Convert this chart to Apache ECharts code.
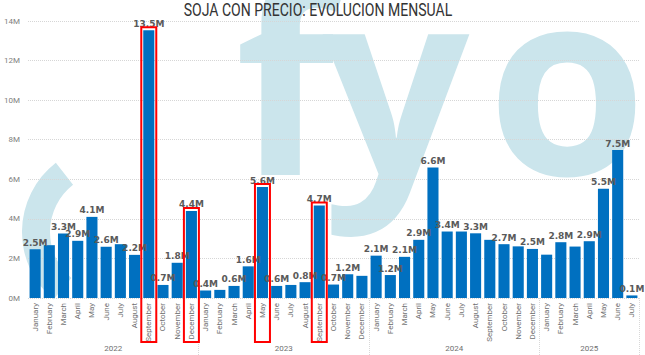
<!DOCTYPE html>
<html><head><meta charset="utf-8">
<script src="https://cdn.jsdelivr.net/npm/echarts@6/dist/echarts.min.js"></script>
<style>html,body{margin:0;padding:0;background:#fff}#c{width:645px;height:355px}</style>
</head><body><div id="c"></div>
<script>
const months = [
  'January','February','March','April','May','June','July','August','September','October','November','December',
  'January','February','March','April','May','June','July','August','September','October','November','December',
  'January','February','March','April','May','June','July','August','September','October','November','December',
  'January','February','March','April','May','June','July'
];
const values = [
  2.47, 2.67, 3.26, 2.89, 4.10, 2.59, 2.72, 2.18, 13.53, 0.66, 1.78, 4.40,
  0.38, 0.41, 0.61, 1.60, 5.61, 0.61, 0.66, 0.80, 4.67, 0.68, 1.20, 1.12,
  2.14, 1.16, 2.08, 2.94, 6.60, 3.36, 3.36, 3.27, 2.94, 2.72, 2.61, 2.48,
  2.19, 2.82, 2.60, 2.87, 5.52, 7.48, 0.13
];
const showLabel = [
  1,0,1,1,1,1,0,1,1,1,1,1,
  1,0,1,1,1,1,0,1,1,1,1,0,
  1,1,1,1,1,1,0,1,0,1,0,1,
  0,1,0,1,1,1,1
];
const yearLabels = ['2022','2023','2024','2025'];
const yearCenters = [5.5, 17.5, 29.5, 39];
const yearBounds = [11.5, 23.5, 35.5, 42.5];
const highlighted = [8, 11, 16, 20];
const titleText = 'SOJA CON PRECIO: EVOLUCION MENSUAL';

const chart = echarts.init(document.getElementById('c'), null, {renderer: 'svg'});
const axisFont = 'Roboto';
chart.setOption({
  animation: false,
  grid: {left: 28, right: 6, top: 21, bottom: 57},
  xAxis: [
    {
      type: 'category', data: months,
      axisLine: {show: false}, axisTick: {show: false},
      axisLabel: {rotate: 90, interval: 0, fontSize: 8, color: '#707070', margin: 5, fontFamily: axisFont}
    },
    {
      type: 'value', min: -0.5, max: 42.5, position: 'bottom',
      axisLine: {show: false}, splitLine: {show: false},
      axisTick: {show: true, customValues: yearBounds, length: 57, lineStyle: {color: '#d8d8d8', type: 'dotted'}},
      axisLabel: {customValues: yearCenters, margin: 46, fontSize: 8, color: '#707070', fontFamily: axisFont,
        formatter: v => yearLabels[yearCenters.indexOf(v)]}
    }
  ],
  yAxis: {
    type: 'value', min: 0, max: 14, interval: 2,
    axisLine: {show: false}, axisTick: {show: false},
    axisLabel: {formatter: v => v + 'M', fontSize: 8, color: '#808080', margin: 8, fontFamily: axisFont},
    splitLine: {lineStyle: {color: '#d6d6d6', type: 'dotted'}}
  },
  series: [{
    type: 'bar', xAxisIndex: 0, yAxisIndex: 0,
    barCategoryGap: '22%',
    itemStyle: {color: '#0070c0'},
    data: values.map((v, i) => ({value: v, label: {show: !!showLabel[i]}})),
    label: {
      position: 'top', distance: 2,
      formatter: p => p.value.toFixed(1) + 'M',
      fontSize: 9, fontWeight: 'bold', color: '#5a5a5a', fontFamily: 'DejaVu Sans'
    }
  }]
});

const wm = '#cbe5ec';
const H = chart.getHeight();
const boxes = highlighted.map((i, k) => {
  const p = chart.convertToPixel({seriesIndex: 0}, [i, values[i]]);
  const top = p[1] - 3;
  return {type: 'rect', id: 'box' + k, z: 100,
    shape: {x: p[0] - 7.5, y: top, width: 15, height: H - 13 - top},
    style: {fill: 'none', stroke: '#ff0000', lineWidth: 2}};
});
const wmFont = 'bold 258px "Open Sans"';
chart.setOption({
  graphic: [
    {type: 'sector', id: 'arc', z: -10, silent: true,
     shape: {cx: 110, cy: 232, r0: 60, r: 88, startAngle: 130 * Math.PI / 180, endAngle: 232 * Math.PI / 180},
     style: {fill: wm}},
    {type: 'text', id: 'wf', z: -10, silent: true, x: 285, y: 75,
     style: {text: 'f', font: wmFont, fill: wm, textAlign: 'center', textVerticalAlign: 'middle'}},
    {type: 'text', id: 'wy', z: -10, silent: true, x: 396, y: 75,
     style: {text: 'y', font: wmFont, fill: wm, textAlign: 'center', textVerticalAlign: 'middle'}},
    {type: 'text', id: 'wo', z: -10, silent: true, x: 567, y: 75,
     style: {text: 'o', font: wmFont, fill: wm, textAlign: 'center', textVerticalAlign: 'middle'}},
    {type: 'text', id: 'title', x: 318, y: 10, scaleX: 0.78,
     style: {text: titleText, font: '18px Roboto', fill: '#333', textAlign: 'center', textVerticalAlign: 'middle'}}
  ].concat(boxes)
});
</script></body></html>
